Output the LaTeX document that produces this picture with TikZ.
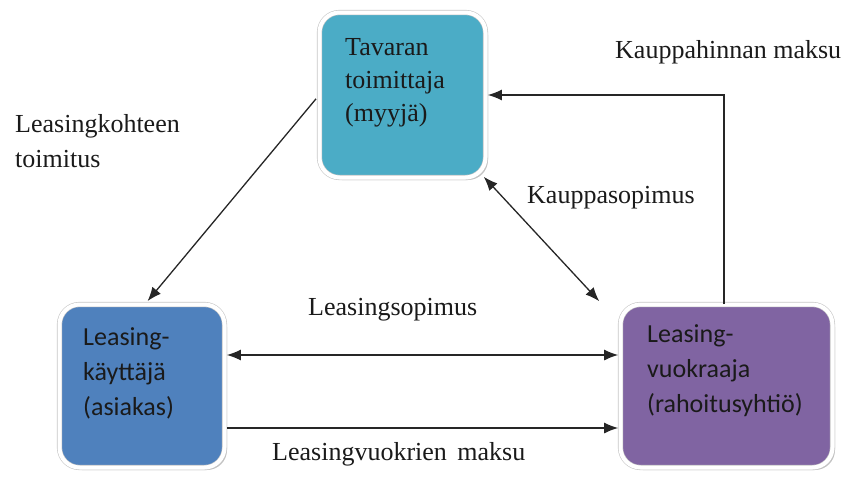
\documentclass[tikz,border=0pt]{standalone}
\usepackage{fontspec}
\setmainfont{Liberation Serif}
\newfontfamily\boxsans{Carlito}
\usetikzlibrary{shadows,arrows.meta}
\definecolor{aquabox}{HTML}{4BACC6}
\definecolor{bluebox}{HTML}{4F81BD}
\definecolor{purplebox}{HTML}{8064A2}
\definecolor{txt}{HTML}{1A1A1A}
\tikzset{
  boxbase/.style={rectangle, rounded corners=20pt, draw=black!22, double=white,
    double distance=4pt, line width=0.6pt, inner sep=0pt,
    drop shadow={shadow xshift=2.5pt, shadow yshift=-2.5pt, opacity=0.4, fill=black!60}},
  serifbox/.style={anchor=base west, align=left, inner sep=0pt, text=txt,
    font=\fontsize{26}{33}\selectfont},
  sansbox/.style={anchor=base west, align=left, inner sep=0pt, text=txt,
    font=\boxsans\fontsize{26}{35}\selectfont},
  lbl/.style={anchor=base west, align=left, inner sep=0pt, text=txt,
    font=\fontsize{26}{35}\selectfont},
  conn/.style={line width=1.3pt, draw=black!85, -{Latex[length=14pt,width=11pt]}},
  dconn/.style={line width=1.3pt, draw=black!85, {Latex[length=14pt,width=11pt]}-{Latex[length=14pt,width=11pt]}}
}
\begin{document}
\begin{tikzpicture}[x=1pt,y=-1pt]
\useasboundingbox (0,0) rectangle (855,477);
% boxes
\node[boxbase, fill=aquabox, minimum width=166pt, minimum height=165pt] (top) at (402.5,95) {};
\node[boxbase, fill=bluebox, minimum width=165pt, minimum height=163pt] (left) at (142,386) {};
\node[boxbase, fill=purplebox, minimum width=212pt, minimum height=163pt] (right) at (726.5,386) {};
% box texts (anchor at baseline of last line)
\node[serifbox] (toptext) at (345,121) {Tavaran\\toimittaja\\(myyjä)};
\node[sansbox] (lefttext) at (83,415) {Leasing-\\käyttäjä\\(asiakas)};
\node[sansbox] (righttext) at (647,412) {Leasing-\\vuokraaja\\(rahoitusyhtiö)};
% labels
\node[lbl] (l1) at (615,58) {Kauppahinnan maksu};
\node[lbl] (l2) at (15,167) {Leasingkohteen\\toimitus};
\node[lbl] (l3) at (308,315) {Leasingsopimus};
\node[lbl] (l4) at (272,460) {Leasingvuokrien\hspace{4pt} maksu};
\node[lbl] (l5) at (527,203) {Kauppasopimus};
% connectors
\draw[conn, shorten <=5pt, shorten >=4pt] (top.west) -- ([xshift=3pt]left.north);
\draw[dconn] ([shift={(-2pt,1pt)}]top.south east) -- ([shift={(-21pt,3pt)}]right.north west);
\draw[conn, shorten >=2pt] ([xshift=-2.5pt]right.north) |- (top.east);
\draw[dconn, shorten <=2pt, shorten >=2pt] ([yshift=31pt]left.east) -- ([yshift=31pt]right.west);
\draw[conn, shorten <=2pt, shorten >=2pt] ([yshift=-42pt]left.east) -- ([yshift=-42pt]right.west);
\end{tikzpicture}
\end{document}
